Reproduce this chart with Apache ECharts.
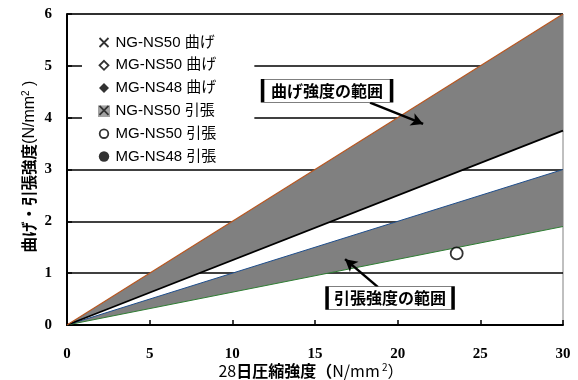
<!DOCTYPE html>
<html><head><meta charset="utf-8">
<script src="https://cdn.jsdelivr.net/npm/echarts@6/dist/echarts.min.js"></script>
<style>html,body{margin:0;padding:0;background:#fff}#c{width:578px;height:380px}</style>
</head><body><div id="c"></div>
<script>
// ---- data ----
const xEnds = [0, 30];               // 28-day compressive strength range (N/mm2)
const bendUpper = [0, 6.0];          // bending strength range, upper line
const bendLower = [0, 3.75];         // bending strength range, lower line
const tensUpper = [0, 3.0];          // tensile strength range, upper line
const tensLower = [0, 1.9];          // tensile strength range, lower line
const legendNames = ['NG-NS50 曲げ', 'MG-NS50 曲げ', 'MG-NS48 曲げ', 'NG-NS50 引張', 'MG-NS50 引張', 'MG-NS48 引張'];
const mgNs50TensileX = [23.57];
const mgNs50TensileY = [1.38];
const xTicks = [0, 5, 10, 15, 20, 25, 30];
const yTicks = [0, 1, 2, 3, 4, 5, 6];

// ---- helpers ----
const pts = (xs, ys) => xs.map((x, i) => [x, ys[i]]);
const bandData = (xs, lo, hi) => xs.map((x, i) => [x, lo[i], hi[i]]);
const svgIcon = s => 'image://data:image/svg+xml;charset=utf-8,' + encodeURIComponent("<svg xmlns='http://www.w3.org/2000/svg' width='13' height='13' viewBox='0 0 13 13'>" + s + "</svg>");
const icons = [
  svgIcon("<path d='M2,2L11,11M11,2L2,11' stroke='black' stroke-width='1.8' fill='none'/>"),
  svgIcon("<polygon points='6.5,2 11,6.5 6.5,11 2,6.5' fill='white' stroke='black' stroke-width='1.8'/>"),
  svgIcon("<polygon points='6.5,1.5 11.5,6.5 6.5,11.5 1.5,6.5' fill='black'/>"),
  svgIcon("<rect x='0.5' y='1' width='12' height='12' fill='#8c8c8c'/><path d='M2,1.5L11,10.5M11,1.5L2,10.5' stroke='black' stroke-width='1.8' fill='none'/>"),
  svgIcon("<circle cx='6.5' cy='6.5' r='4.3' fill='white' stroke='black' stroke-width='1.8'/>"),
  svgIcon("<circle cx='6.5' cy='6.5' r='5.2' fill='black'/>")
];

const serif = '"Liberation Serif","Times New Roman",serif';
const sans = '"Liberation Sans","Noto Sans CJK JP",sans-serif';
const cjk = '"Noto Sans CJK JP","Liberation Sans",sans-serif';

function bandRender(params, api) {
  const n = params.dataInsideLength;
  if (params.dataIndex >= n - 1) return;
  const a0 = api.coord([api.value(0, params.dataIndex), api.value(2, params.dataIndex)]);
  const a1 = api.coord([api.value(0, params.dataIndex + 1), api.value(2, params.dataIndex + 1)]);
  const b1 = api.coord([api.value(0, params.dataIndex + 1), api.value(1, params.dataIndex + 1)]);
  const b0 = api.coord([api.value(0, params.dataIndex), api.value(1, params.dataIndex)]);
  return {type: 'polygon', shape: {points: [a0, a1, b1, b0]}, style: {fill: '#808080', stroke: null}};
}

const chart = echarts.init(document.getElementById('c'), null, {renderer: 'canvas'});

const legendSeries = legendNames.map((n, i) => ({
  name: n, type: 'scatter', z: 10,
  symbol: i === 4 ? 'circle' : 'none',
  symbolSize: 12,
  itemStyle: {color: '#fff', borderColor: '#000', borderWidth: 1.8},
  data: i === 4 ? pts(mgNs50TensileX, mgNs50TensileY) : []
}));

chart.setOption({
  animation: false,
  backgroundColor: '#fff',
  grid: {left: 67, right: 15, top: 14, bottom: 55, outerBoundsMode: 'none', containLabel: false,
         show: true, borderColor: '#808080', borderWidth: 1, backgroundColor: 'transparent'},
  xAxis: {
    type: 'value', min: xTicks[0], max: xTicks[xTicks.length - 1], interval: 5,
    axisLine: {lineStyle: {color: '#000', width: 2}},
    axisTick: {inside: true, length: 5, lineStyle: {color: '#000', width: 1.5}},
    splitLine: {show: false},
    axisLabel: {margin: 22, color: '#000', fontFamily: serif, fontWeight: 'bold', fontSize: 15},
    name: '{n|28}{b|日圧縮強度（}{n|N/mm}{s| 2}{n|）}',
    nameLocation: 'middle', nameGap: 37, nameMoveOverlap: false,
    nameTextStyle: {
      padding: [0, 8, 0, 0], fontSize: 16, fontFamily: cjk, lineHeight: 18, color: '#000',
      rich: {
        n: {fontFamily: cjk, fontSize: 16, fontWeight: 'normal', color: '#000', lineHeight: 18},
        b: {fontFamily: cjk, fontSize: 16, fontWeight: 'bold', color: '#000', lineHeight: 18},
        s: {fontFamily: cjk, fontSize: 10, color: '#000', verticalAlign: 'top', lineHeight: 12}
      }
    }
  },
  yAxis: {
    type: 'value', min: yTicks[0], max: yTicks[yTicks.length - 1], interval: 1,
    axisLine: {show: true, lineStyle: {color: '#000', width: 2}},
    axisTick: {show: true, inside: true, length: 5, lineStyle: {color: '#000', width: 1.5}},
    splitLine: {show: true, lineStyle: {color: '#000', width: 1.5}},
    axisLabel: {margin: 15, color: '#000', fontFamily: serif, fontWeight: 'bold', fontSize: 15},
    name: '{b|曲げ・引張強度}{n|(N/mm}{s|2}{n| )}',
    nameLocation: 'middle', nameRotate: 90, nameGap: 29, nameMoveOverlap: false,
    nameTextStyle: {
      padding: [0, 0, 0, 6], fontSize: 16, fontFamily: sans, lineHeight: 17, color: '#000',
      rich: {
        n: {fontFamily: sans, fontSize: 16, color: '#000', lineHeight: 17, verticalAlign: 'middle'},
        b: {fontFamily: cjk, fontSize: 15.5, fontWeight: 'bold', color: '#000', lineHeight: 17, verticalAlign: 'middle'},
        s: {fontFamily: sans, fontSize: 10, color: '#000', verticalAlign: 'top', lineHeight: 11}
      }
    }
  },
  legend: {
    orient: 'vertical', left: 82, top: 28,
    padding: [7, 38, 4, 15.5],
    backgroundColor: '#fff',
    itemWidth: 13, itemHeight: 13, itemGap: 7.8,
    textStyle: {fontFamily: sans, fontSize: 15, color: '#000', lineHeight: 13},
    data: legendNames.map((n, i) => ({name: n, icon: icons[i]})),
    selectedMode: false
  },
  series: [
    {type: 'custom', name: '_tband', z: 2, clip: true, renderItem: bandRender,
     encode: {x: 0, y: [1, 2]}, data: bandData(xEnds, tensLower, tensUpper)},
    {type: 'custom', name: '_bband', z: 2, clip: true, renderItem: bandRender,
     encode: {x: 0, y: [1, 2]}, data: bandData(xEnds, bendLower, bendUpper)},
    {type: 'line', name: '_tl', symbol: 'none', z: 3, data: pts(xEnds, tensLower),
     lineStyle: {color: '#2e7d32', width: 1}},
    {type: 'line', name: '_tu', symbol: 'none', z: 3, data: pts(xEnds, tensUpper),
     lineStyle: {color: '#1f4e8c', width: 1}},
    {type: 'line', name: '_bl', symbol: 'none', z: 3, data: pts(xEnds, bendLower),
     lineStyle: {color: '#000', width: 1.8}},
    {type: 'line', name: '_bu', symbol: 'none', z: 3, data: pts(xEnds, bendUpper),
     lineStyle: {color: '#b8561f', width: 1.2},
     markLine: {
       silent: true, symbol: ['none', 'arrow'], symbolSize: [10, 12],
       lineStyle: {color: '#000', width: 2.5, type: 'solid'}, label: {show: false},
       data: [
         [{coord: [18.33, 4.29]}, {coord: [21.54, 3.88]}],
         [{coord: [18.81, 0.73]}, {coord: [16.82, 1.27]}]
       ]
     },
     markPoint: {
       silent: true, z: 12,
       data: [
         {coord: [15.73, 4.52], symbol: 'rect', symbolSize: [129, 23],
          itemStyle: {color: '#fff', borderColor: '#000', borderWidth: 1.5},
          label: {show: true, position: 'inside', formatter: '曲げ強度の範囲', color: '#000', fontFamily: cjk, fontWeight: 'bold', fontSize: 16}},
         {coord: [19.54, 0.52], symbol: 'rect', symbolSize: [126, 23],
          itemStyle: {color: '#fff', borderColor: '#000', borderWidth: 1.5},
          label: {show: true, position: 'inside', formatter: '引張強度の範囲', color: '#000', fontFamily: cjk, fontWeight: 'bold', fontSize: 16}}
       ]
     }}
  ].concat(legendSeries)
});
</script></body></html>
